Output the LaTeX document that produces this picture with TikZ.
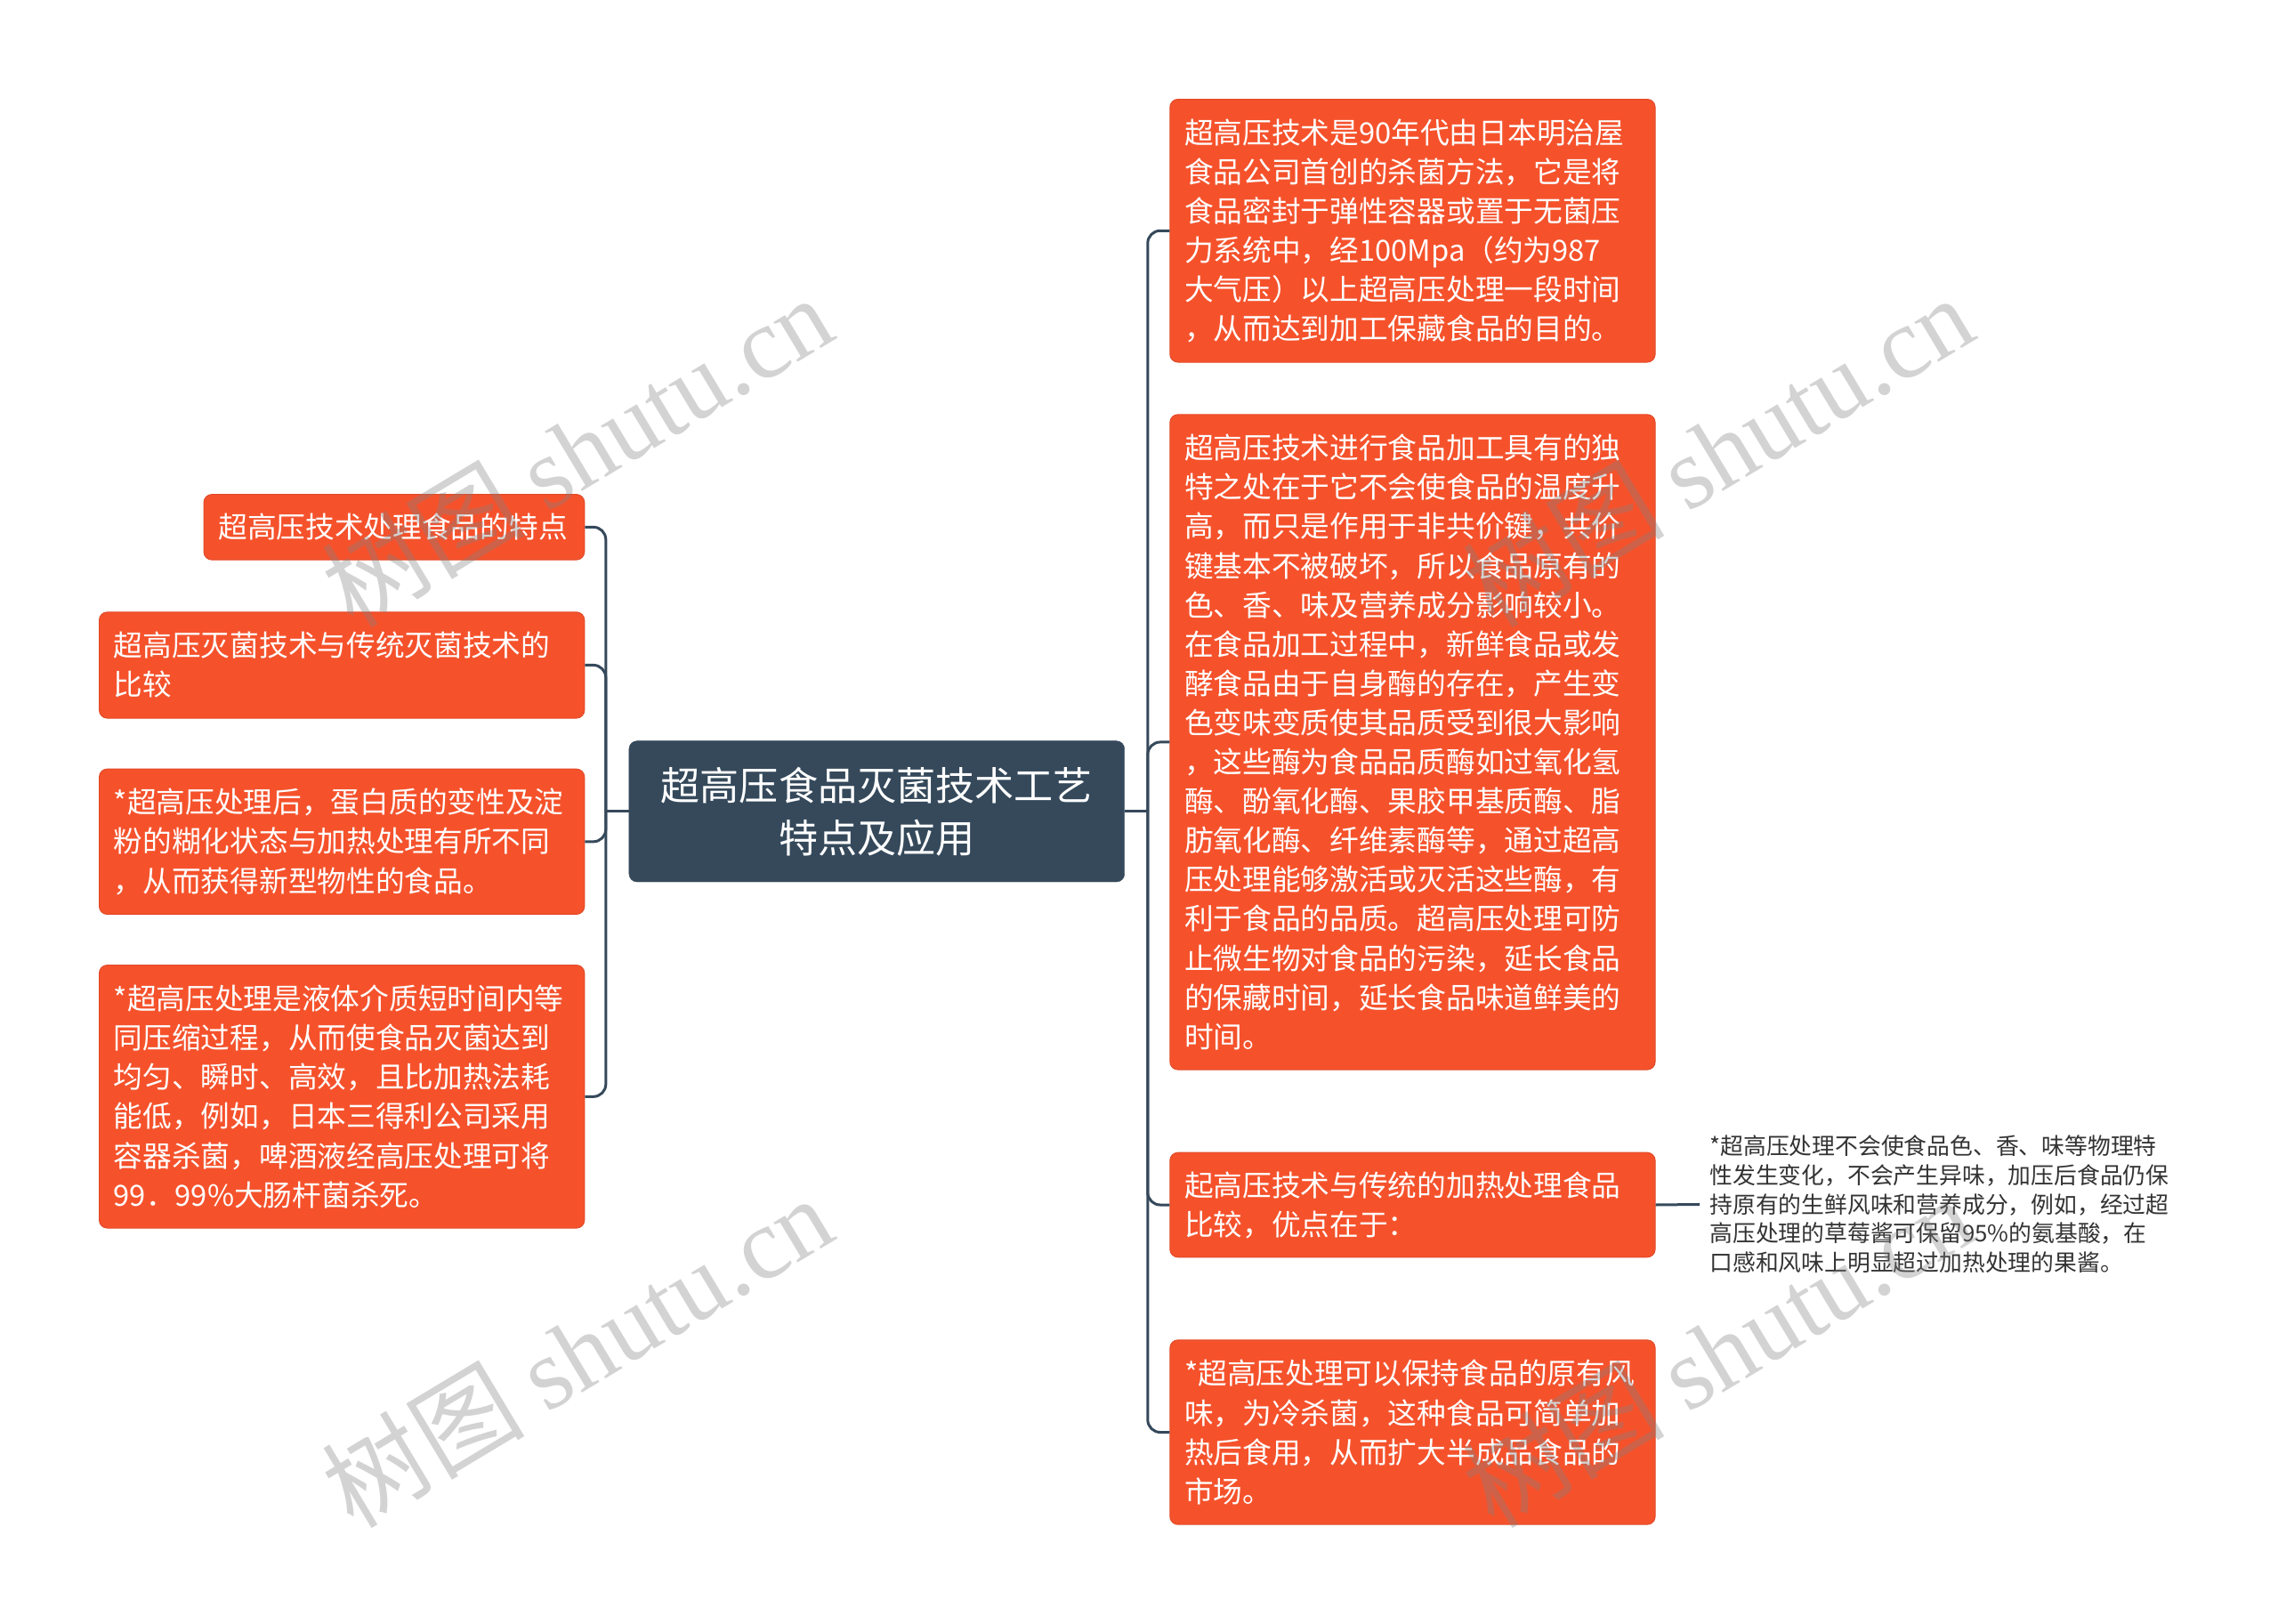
\documentclass[tikz,border=0pt]{standalone}
\usepackage{fontspec}
\setmainfont{Noto Sans CJK SC}
\newfontfamily\wmserif{Liberation Serif}
\definecolor{nodeor}{HTML}{F5522C}
\definecolor{nodeorb}{HTML}{E24A28}
\definecolor{darkc}{HTML}{35495B}
\definecolor{notec}{HTML}{333333}
\begin{document}
\begin{tikzpicture}[x=1.6327pt,y=-1.6327pt,
  conn/.style={draw=darkc,line width=3pt,rounded corners=14pt},
  topic/.style={fill=nodeor,draw=nodeorb,line width=1pt,rounded corners=9pt,text=white,align=left,
    inner xsep=16.3pt,inner ysep=0pt,font=\fontsize{32.7pt}{44.1pt}\selectfont,anchor=north west},
  rbox/.style={topic,text width=512.7pt},
  lbox/.style={topic,text width=512.7pt},
  central/.style={fill=darkc,draw=darkc,rounded corners=9pt,text=white,align=center,
    text width=500pt,inner xsep=28.4pt,inner ysep=0pt,minimum height=158.4pt,
    font=\fontsize{44.1pt}{58.8pt}\selectfont},
  notestyle/.style={text=notec,align=left,anchor=west,inner xsep=11pt,inner ysep=0pt,
    font=\fontsize{25.8pt}{32.65pt}\selectfont},
  wm/.style={text=gray,text opacity=0.35,rotate=31,inner sep=0pt,font=\fontsize{114pt}{114pt}\selectfont}
]
\path[use as bounding box] (0,0) rectangle (1568,1117.8);

% central topic
\node[central] (c) at (603.5,558.5) {超高压食品灭菌技术工艺\\特点及应用};

% right branches
\node[rbox,minimum height=295.5pt] (r1) at (805,68) {超高压技术是90年代由日本明治屋\\食品公司首创的杀菌方法，它是将\\食品密封于弹性容器或置于无菌压\\力系统中，经100Mpa（约为987\\大气压）以上超高压处理一段时间\\，从而达到加工保藏食品的目的。};
\node[rbox,minimum height=736.3pt] (r2) at (805,285) {超高压技术进行食品加工具有的独\\特之处在于它不会使食品的温度升\\高，而只是作用于非共价键，共价\\键基本不被破坏，所以食品原有的\\色、香、味及营养成分影响较小。\\在食品加工过程中，新鲜食品或发\\酵食品由于自身酶的存在，产生变\\色变味变质使其品质受到很大影响\\，这些酶为食品品质酶如过氧化氢\\酶、酚氧化酶、果胶甲基质酶、脂\\肪氧化酶、纤维素酶等，通过超高\\压处理能够激活或灭活这些酶，有\\利于食品的品质。超高压处理可防\\止微生物对食品的污染，延长食品\\的保藏时间，延长食品味道鲜美的\\时间。};
\node[rbox,minimum height=117.6pt] (r3) at (805,793) {起高压技术与传统的加热处理食品\\比较，优点在于：};
\node[rbox,minimum height=207.4pt] (r4) at (805,922) {*超高压处理可以保持食品的原有风\\味，为冷杀菌，这种食品可简单加\\热后食用，从而扩大半成品食品的\\市场。};

% note
\node[notestyle] (note) at (1170,829) {*超高压处理不会使食品色、香、味等物理特\\性发生变化，不会产生异味，加压后食品仍保\\持原有的生鲜风味和营养成分，例如，经过超\\高压处理的草莓酱可保留95\%的氨基酸，在\\口感和风味上明显超过加热处理的果酱。};

% left branches
\node[topic,text width=395.1pt,minimum height=73.5pt] (l1) at (140,340) {超高压技术处理食品的特点};
\node[lbox,minimum height=119.2pt] (l2) at (68,421) {超高压灭菌技术与传统灭菌技术的\\比较};
\node[lbox,minimum height=163.3pt] (l3) at (68,529) {*超高压处理后，蛋白质的变性及淀\\粉的糊化状态与加热处理有所不同\\，从而获得新型物性的食品。};
\node[lbox,minimum height=295.5pt] (l4) at (68,664) {*超高压处理是液体介质短时间内等\\同压缩过程，从而使食品灭菌达到\\均匀、瞬时、高效，且比加热法耗\\能低，例如，日本三得利公司采用\\容器杀菌，啤酒液经高压处理可将\\99．99\%大肠杆菌杀死。};

% connectors
\coordinate (rj) at (790,558.5);
\coordinate (lj) at (417,558.5);
\draw[conn] (c.east) -- (rj);
\draw[conn] (rj) |- (r1.west);
\draw[conn] (rj) |- (r2.west);
\draw[conn] (rj) |- (r3.west);
\draw[conn] (rj) |- (r4.west);
\draw[conn] (c.west) -- (lj);
\draw[conn] (lj) |- (l1.east);
\draw[conn] (lj) |- (l2.east);
\draw[conn] (lj) |- (l3.east);
\draw[conn] (lj) |- (l4.east);
\draw[conn] (r3.east) -- (note.west);

% watermarks
\node[wm] (wm1) at (397,310) {树图 {\wmserif shutu.cn}};
\node[wm] (wm2) at (397,930) {树图 {\wmserif shutu.cn}};
\node[wm] (wm3) at (1182,310) {树图 {\wmserif shutu.cn}};
\node[wm] (wm4) at (1182,930) {树图 {\wmserif shutu.cn}};
\end{tikzpicture}
\end{document}
